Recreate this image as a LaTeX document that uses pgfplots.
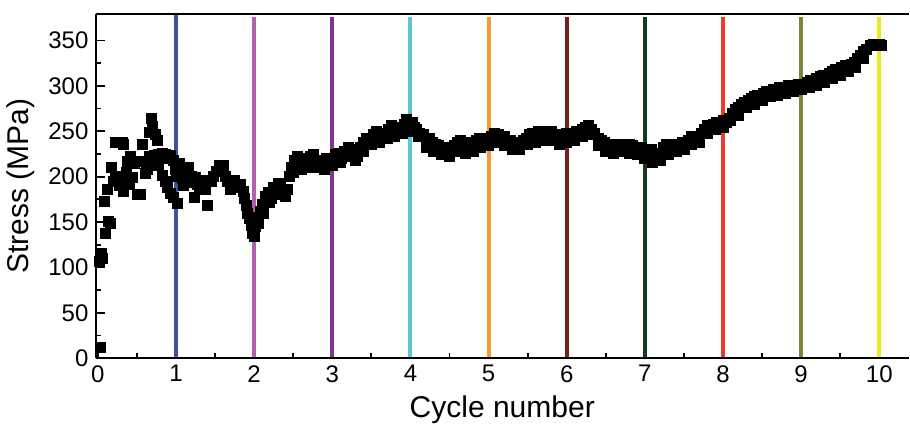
\documentclass[border=0pt]{standalone}
\usepackage{pgfplots}
\pgfplotsset{compat=1.18}
\usepackage{fontspec}
\setmainfont{Liberation Sans}
\definecolor{c1}{RGB}{58,83,164}
\definecolor{c2}{RGB}{178,95,174}
\definecolor{c3}{RGB}{126,53,148}
\definecolor{c4}{RGB}{91,197,222}
\definecolor{c5}{RGB}{247,154,50}
\definecolor{c6}{RGB}{126,27,27}
\definecolor{c7}{RGB}{18,59,22}
\definecolor{c8}{RGB}{238,58,42}
\definecolor{c9}{RGB}{128,131,57}
\definecolor{c10}{RGB}{238,232,31}
\begin{document}
\begin{tikzpicture}
\begin{axis}[
  scale only axis,
  width=406.5pt, height=172pt,
  xmin=-0.03, xmax=10.38, ymin=0, ymax=379,
  axis x line*=box, axis y line*=left,
  xtick pos=left, ytick pos=left,
  xtick={0,1,...,10}, ytick={0,50,...,350},
  minor x tick num=1, minor y tick num=1,
  tick align=inside,
  major tick length=4.5pt, minor tick length=2.5pt,
  every tick/.style={black, line width=0.9pt},
  axis line style={line width=1pt},
  /pgf/number format/assume math mode=true,
  tick label style={font=\fontsize{12}{13}\selectfont},
  xlabel={Cycle number}, ylabel={Stress (MPa)},
  label style={font=\fontsize{15}{16}\selectfont},
  xlabel style={yshift=0pt},
  ylabel style={yshift=0pt},
  clip=false,
]
\addplot[only marks, mark=square*, mark size=2.5pt, black] table {
x y
0.03 12
0.02 107
0.04 115
0.06 110
0.10 138
0.13 151
0.16 148
0.08 173
0.12 186
0.17 210
0.20 195
0.23 200
0.23 238
0.27 190
0.32 238
0.33 236
0.33 184
0.30 196
0.36 205
0.38 217
0.40 192
0.44 199
0.47 215
0.42 222
0.51 181
0.55 181
0.53 217
0.57 236
0.61 204
0.64 208
0.66 249
0.68 264
0.70 255
0.74 247
0.76 240
0.70 214
0.72 223
0.62 215
0.66 222
0.78 212
0.78 224
0.82 226
0.83 221
0.86 224
0.90 220
0.93 223
0.97 218
0.83 201
0.86 195
0.89 188
0.93 182
0.97 177
0.99 208
1.02 171
1.00 200
1.04 215
1.06 206
1.08 198
1.10 190
1.13 208
1.16 210
1.18 194
1.20 200
1.23 177
1.25 199
1.27 192
1.30 188
1.33 196
1.36 194
1.38 186
1.40 168
1.42 196
1.45 195
1.48 200
1.52 206
1.55 212
1.58 210
1.61 212
1.63 200
1.66 195
1.69 186
1.72 190
1.75 196
1.78 192
1.80 188
1.83 192
1.86 184
1.88 176
1.90 168
1.92 160
1.94 154
1.96 146
1.98 138
2.00 134
2.02 145
2.04 155
2.06 148
2.08 162
2.10 170
2.12 160
2.15 178
2.18 183
2.22 176
2.25 188
2.28 185
2.31 193
2.34 190
2.38 182
2.42 186
2.45 200
2.48 210
2.51 218
2.55 222
2.58 214
2.62 220
2.65 212
2.68 216
2.72 222
2.76 224
2.80 218
2.84 212
2.88 214
2.92 220
2.96 216
3.00 220
3.04 224
3.08 226
3.12 220
3.16 228
3.20 232
3.24 230
3.28 226
3.32 222
3.36 232
3.40 238
3.44 242
3.48 238
3.52 246
3.56 250
3.60 246
3.64 242
3.68 248
3.72 252
3.76 256
3.80 250
3.84 254
3.88 250
3.92 258
3.95 263
3.98 258
4.02 260
4.05 254
4.08 252
4.12 248
4.16 246
4.20 240
4.24 242
4.28 238
4.32 236
4.36 234
4.40 232
4.44 230
4.48 232
4.52 228
4.56 234
4.60 238
4.64 240
4.68 236
4.72 232
4.76 238
4.80 236
4.84 240
4.88 242
4.92 238
4.96 240
5.00 242
5.04 244
5.08 248
5.12 246
5.16 242
5.20 244
5.24 238
5.28 240
5.32 236
5.36 238
5.40 236
5.44 240
5.48 242
5.52 246
5.56 248
5.60 246
5.64 250
5.68 248
5.72 250
5.76 248
5.80 250
5.84 246
5.88 242
5.92 244
5.96 246
6.00 248
6.04 244
6.08 248
6.12 250
6.16 248
6.20 252
6.24 254
6.28 256
6.32 252
6.36 248
6.40 242
6.44 240
6.48 238
6.52 236
6.56 234
6.60 232
6.64 236
6.68 234
6.72 236
6.76 232
6.80 236
6.84 234
6.88 232
6.92 230
6.96 232
7.00 228
7.04 226
7.08 230
7.12 222
7.16 220
7.20 226
7.24 232
7.28 236
7.32 230
7.36 234
7.40 236
7.44 232
7.48 238
7.52 236
7.56 240
7.60 244
7.64 240
7.68 244
7.72 248
7.76 252
7.80 256
7.84 254
7.88 258
7.92 260
7.96 258
8.00 262
8.04 260
8.08 264
8.12 270
8.16 274
8.20 276
8.24 280
8.28 282
8.32 284
8.36 286
8.40 288
8.44 290
8.48 290
8.52 292
8.56 294
8.60 294
8.64 296
8.68 296
8.72 298
8.76 298
8.80 298
8.84 300
8.88 300
8.92 300
8.96 302
9.00 302
9.04 302
9.08 304
9.12 306
9.16 306
9.20 308
9.24 310
9.28 312
9.32 312
9.36 314
9.40 316
9.44 318
9.48 318
9.52 320
9.56 322
9.60 322
9.64 324
9.68 326
9.72 330
9.76 334
9.80 338
9.84 340
9.88 344
9.92 346
9.96 346
10.00 346
10.03 344
2.10 160
2.20 172
2.30 180
2.40 178
2.50 205
2.60 208
2.70 210
2.80 210
2.90 208
3.00 212
3.10 216
3.20 222
3.30 218
3.40 228
3.50 236
3.60 238
3.70 242
3.80 244
3.90 248
4.00 250
4.10 244
4.20 232
4.30 228
4.40 224
4.50 222
4.60 228
4.70 226
4.80 228
4.90 232
5.00 234
5.10 238
5.20 234
5.30 230
5.40 230
5.50 236
5.60 238
5.70 240
5.80 240
5.90 236
6.00 238
6.10 240
6.20 244
6.30 246
6.40 234
6.50 228
6.60 226
6.70 228
6.80 226
6.90 224
7.00 220
7.10 216
7.20 218
7.30 224
7.40 228
7.50 230
7.60 236
7.70 238
7.80 248
7.90 252
8.00 254
8.10 262
8.20 268
8.30 276
8.40 280
8.50 284
8.60 288
8.70 290
8.80 292
8.90 294
9.00 296
9.10 298
9.20 300
9.30 304
9.40 308
9.50 312
9.60 316
9.70 320
9.80 330
};
\addplot[c1, line width=2pt] coordinates {(1,1) (1,378)};
\addplot[c2, line width=2pt] coordinates {(2,1) (2,376)};
\addplot[c3, line width=2pt] coordinates {(3,1) (3,376)};
\addplot[c4, line width=2pt] coordinates {(4,1) (4,376)};
\addplot[c5, line width=2pt] coordinates {(5,1) (5,376)};
\addplot[c6, line width=2pt] coordinates {(6,1) (6,376)};
\addplot[c7, line width=2pt] coordinates {(7,1) (7,376)};
\addplot[c8, line width=2pt] coordinates {(8,1) (8,376)};
\addplot[c9, line width=2pt] coordinates {(9,1) (9,376)};
\addplot[c10, line width=2pt] coordinates {(10,1) (10,376)};
\end{axis}
\path ([yshift=6.5pt]current axis.outer north);
\end{tikzpicture}
\end{document}
